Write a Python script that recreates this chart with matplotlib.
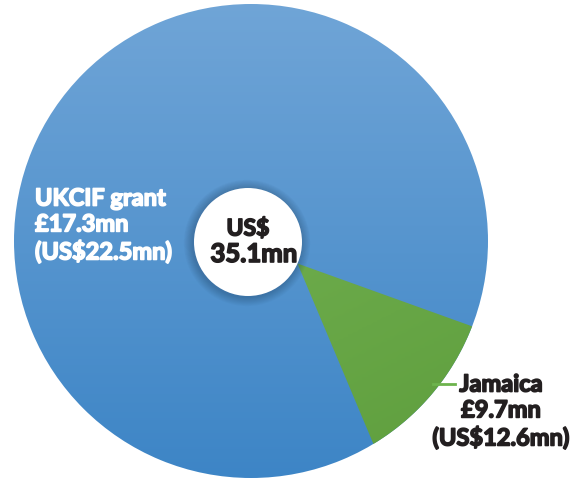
import matplotlib
matplotlib.use("Agg")
import matplotlib.pyplot as plt
import matplotlib.patches as mpatches
import matplotlib.patheffects as pe
from matplotlib.colors import LinearSegmentedColormap
import numpy as np

# data
labels = ["Jamaica", "UKCIF grant"]
gbp_mn = [9.7, 17.3]
usd_mn = [12.6, 22.5]
total_usd = 35.1
slice_share = [10.5, 89.5]  # shares as drawn in the picture
colors_top = ["#7dba5b", "#70a5d7"]
colors_bot = ["#5c9c3b", "#3d85c6"]

W, H = 573, 479
fig = plt.figure(figsize=(W / 100, H / 100), dpi=100)
ax = fig.add_axes([0, 0, 1, 1])
ax.set_aspect("equal")
ax.axis("off")

cx, cy, R = 251, 238, 237
hole_c = (248, 237)
hole_r = 54

wedges, _ = ax.pie(slice_share, center=(cx, cy), radius=R, startangle=-58.9,
                   counterclock=True, colors=colors_top,
                   wedgeprops=dict(linewidth=0))
ax.set_xlim(0, W)
ax.set_ylim(0, H)


def grad_fill(patch, c1, c2, diag=False):
    cmap = LinearSegmentedColormap.from_list("g", [c2, c1])
    yy, xx = np.mgrid[0:1:200j, 0:1:200j]
    z = (yy + 0.6 * (1 - xx)) / 1.6 if diag else yy
    im = ax.imshow(z, cmap=cmap, extent=[0, W, 0, H], origin="lower",
                   aspect="auto", zorder=patch.get_zorder(), interpolation="bilinear")
    im.set_clip_path(patch)
    patch.set_facecolor("none")


# blue slice runs under the green one so the shifted apex leaves no gap
bw = wedges[1]
bw.set_theta2(bw.theta1 + 360)
grad_fill(bw, colors_top[1], colors_bot[1])

# green slice: apex pulled onto the edge of the centre disc
gw = wedges[0]
t = np.radians(np.linspace(gw.theta1, gw.theta2, 60))
arc = np.column_stack([cx + R * np.cos(t), cy + R * np.sin(t)])
a = np.radians(-23.5)
apex = [hole_c[0] + hole_r * np.cos(a), hole_c[1] + hole_r * np.sin(a)]
green = mpatches.Polygon(np.vstack([[apex], arc]), closed=True, lw=0, zorder=2)
ax.add_patch(green)
gw.set_visible(False)
grad_fill(green, colors_top[0], colors_bot[0], diag=True)

# soft shadow + centre disc
for i in range(10):
    ax.add_patch(mpatches.Circle((hole_c[0] - 1, hole_c[1] - 1), hole_r + 1 + i * 0.9,
                                 color="#1d3c5a", alpha=0.035, lw=0, zorder=3))
ax.add_patch(mpatches.Circle(hole_c, hole_r, color="white", lw=0, zorder=4))

font = "Lato"
dark = "#231f20"
heavy_dark = [pe.withStroke(linewidth=1.2, foreground=dark)]
heavy_white = [pe.withStroke(linewidth=1.2, foreground="white")]

ax.text(hole_c[0] + 0, H - 229, "US$", ha="center", va="center", fontsize=16.5,
        fontweight="bold", color=dark, family=font, zorder=5, path_effects=heavy_dark)
ax.text(hole_c[0] + 6, H - 254, f"{total_usd}mn", ha="center", va="center",
        fontsize=18.5, fontweight="bold", color=dark, family=font, zorder=5,
        path_effects=heavy_dark)

ax.text(35, H - 225, f"{labels[1]}\n£{gbp_mn[1]}mn\n(US${usd_mn[1]}mn)",
        ha="left", va="center", fontsize=17, fontweight="bold", color="white",
        family=font, linespacing=1.15, zorder=5, path_effects=heavy_white)

ax.plot([433, 455], [H - 384, H - 384], color="#6db34d", lw=2, zorder=5)
ax.text(501, H - 411, f"{labels[0]}\n£{gbp_mn[0]}mn\n(US${usd_mn[0]}mn)",
        ha="center", va="center", fontsize=17, fontweight="bold", color=dark,
        family=font, linespacing=1.15, zorder=5, path_effects=heavy_dark)

fig.savefig("out.png", dpi=100)
